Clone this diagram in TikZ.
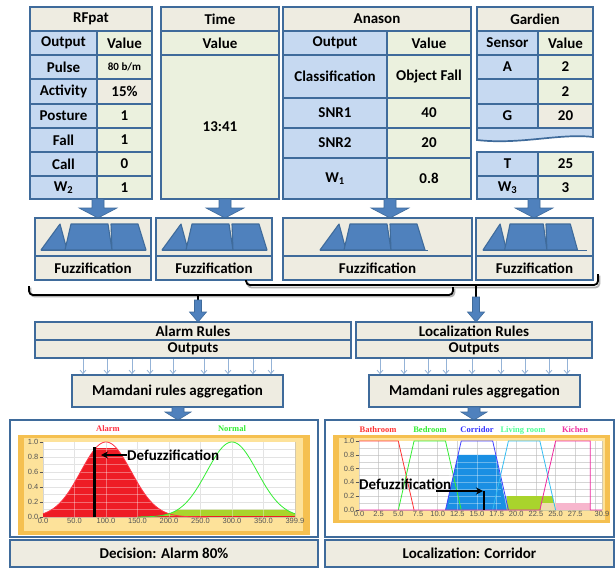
\documentclass[tikz,border=0pt]{standalone}
\usepackage{fontspec}
\setmainfont{Carlito}
\newfontfamily\chartserif{Liberation Serif}
\newfontfamily\chartsans{Liberation Sans}
\usetikzlibrary{arrows.meta,calc}
\definecolor{bdr}{HTML}{3F6B9B}
\definecolor{lblue}{HTML}{C6D9F1}
\definecolor{valc}{HTML}{EBF1DE}
\definecolor{tanc}{HTML}{EEECE1}
\definecolor{arrf}{HTML}{4F81BD}
\definecolor{thinc}{HTML}{95B3D7}
\definecolor{goldD}{HTML}{F5C050}
\definecolor{goldL}{HTML}{FDE29A}
\definecolor{redf}{HTML}{EE1C25}
\definecolor{redl}{HTML}{FF3344}
\definecolor{grnl}{HTML}{33EE33}
\definecolor{ygf}{HTML}{A9D42C}
\definecolor{bluef}{HTML}{1A8FE3}
\definecolor{lbluef}{HTML}{9FD3EF}
\definecolor{pinkf}{HTML}{F7B6CD}
\definecolor{peachf}{HTML}{EFDDB0}
\definecolor{axc}{HTML}{555555}
\newcommand\tabf{\fontsize{15}{17}\selectfont\bfseries}
\newcommand\axf{\chartsans\fontsize{7.5}{8.5}\selectfont}
\newcommand\lblf{\chartserif\bfseries\fontsize{8.5}{9.5}\selectfont}
\tikzset{
  cell/.style={draw=bdr, line width=1.7pt, inner sep=0pt, font=\tabf, align=center},
  outerb/.style={draw=bdr, line width=2.4pt},
  barr/.style={fill=arrf, draw=bdr, line width=0.6pt},
  fzsh/.style={fill=arrf, draw=bdr, line width=1.1pt, line join=round},
  fzl/.style={draw=bdr, line width=1pt},
  brk/.style={draw=black, line width=1.8pt, rounded corners=4pt},
  brkshadow/.style={draw=black!30, line width=1.8pt, rounded corners=4pt},
  thinarr/.style={draw=thinc, line width=0.8pt, -{Straight Barb[length=3.5pt,width=6pt]}},
  gridl/.style={draw=gray!55, line width=0.4pt, opacity=0.6},
  axl/.style={font=\axf, text=axc, inner sep=1pt},
  ticky/.style={draw=axc, line width=0.5pt},
  defarr/.style={draw=black, line width=1.6pt, -{Stealth[length=7pt,width=7pt]}},
}
\newcommand\tcell[7]{\node[cell,fill=#6,minimum width={(#4-#2)*1pt},minimum height={(#5-#3)*1pt}] (#1) at ({(#2+#4)/2},{(#3+#5)/2}) {#7};}
\newcommand\blkarrow[6]{\path[barr] ({#1-#5},#2) -- ({#1+#5},#2) -- ({#1+#5},#3) -- ({#1+#6},#3) -- (#1,#4) -- ({#1-#6},#3) -- ({#1-#5},#3) -- cycle;}
\newcommand\fzs[3]{%
\begin{scope}[shift={(#1,0)}, xscale=#2]
 \draw[fzl] (0,250) -- (#3,250);
 \path[fzsh] (0,250) -- (19,224) -- (26,250) -- cycle;
 \path[fzsh] (24,250) -- (30,224) -- (67,224) -- (71,250) -- cycle;
 \path[fzsh] (71,250) -- (70,224) -- (97,224) -- (105,250) -- cycle;
\end{scope}}
\begin{document}
\begin{tikzpicture}[x=1pt,y=-1pt]
\useasboundingbox (0,0) rectangle (616,571);
\fill[white] (0,0) rectangle (616,571);

% ---------------- RFpat table
\tcell{rfT}{30}{7}{152}{31}{tanc}{RFpat}
\tcell{rfO}{30}{31}{97}{55}{lblue}{Output}
\tcell{rfV}{97}{31}{152}{55}{valc}{Value}
\tcell{rfa}{30}{55}{97}{79}{lblue}{Pulse}
\tcell{rfb}{97}{55}{152}{79}{valc}{{\fontsize{11}{12}\selectfont 80 b/m}}
\tcell{rfc}{30}{79}{97}{104}{lblue}{Activity}
\tcell{rfd}{97}{79}{152}{104}{tanc}{15\%}
\tcell{rfe}{30}{104}{97}{128}{lblue}{Posture}
\tcell{rff}{97}{104}{152}{128}{valc}{1}
\tcell{rfg}{30}{128}{97}{152}{lblue}{Fall}
\tcell{rfh}{97}{128}{152}{152}{valc}{1}
\tcell{rfi}{30}{152}{97}{176}{lblue}{Call}
\tcell{rfj}{97}{152}{152}{176}{valc}{0}
\tcell{rfk}{30}{176}{97}{199}{lblue}{W\textsubscript{2}}
\tcell{rfl}{97}{176}{152}{199}{valc}{1}
\draw[outerb] (30,7) rectangle (152,199);

% ---------------- Time table
\tcell{tmT}{161}{7}{279}{31}{tanc}{Time}
\tcell{tmV}{161}{31}{279}{55}{valc}{Value}
\tcell{tmX}{161}{55}{279}{199}{valc}{13:41}
\draw[outerb] (161,7) rectangle (279,199);

% ---------------- Anason table
\tcell{anT}{283}{7}{471}{31}{tanc}{Anason}
\tcell{anO}{283}{31}{387}{55}{lblue}{Output}
\tcell{anV}{387}{31}{471}{55}{valc}{Value}
\tcell{ana}{283}{55}{387}{98}{lblue}{Classification}
\tcell{anb}{387}{55}{471}{98}{valc}{Object Fall}
\tcell{anc}{283}{98}{387}{128}{lblue}{SNR1}
\tcell{and}{387}{98}{471}{128}{valc}{40}
\tcell{ane}{283}{128}{387}{158}{lblue}{SNR2}
\tcell{anf}{387}{128}{471}{158}{valc}{20}
\tcell{ang}{283}{158}{387}{199}{lblue}{W\textsubscript{1}}
\tcell{anh}{387}{158}{471}{199}{valc}{0.8}
\draw[outerb] (283,7) rectangle (471,199);

% ---------------- Gardien table
\tcell{gaT}{477}{7}{593}{31}{tanc}{Gardien}
\tcell{gaO}{477}{31}{538}{55}{lblue}{Sensor}
\tcell{gaV}{538}{31}{593}{55}{valc}{Value}
\tcell{gaa}{477}{55}{538}{79}{lblue}{A}
\tcell{gab}{538}{55}{593}{79}{valc}{2}
\tcell{gac}{477}{79}{538}{104}{lblue}{}
\tcell{gad}{538}{79}{593}{104}{valc}{2}
\tcell{gae}{477}{104}{538}{128}{lblue}{G}
\tcell{gaf}{538}{104}{593}{128}{tanc}{20}
\filldraw[fill=lblue, draw=bdr, line width=1.7pt] (477,128) -- (593,128) -- (593,137) .. controls (560,133) and (520,145) .. (477,140) -- cycle;
\draw[outerb] (477,140) -- (477,7) -- (593,7) -- (593,137);
\tcell{gTa}{477}{152}{538}{176}{lblue}{T}
\tcell{gTb}{538}{152}{593}{176}{valc}{25}
\tcell{gTc}{477}{176}{538}{199}{lblue}{W\textsubscript{3}}
\tcell{gTd}{538}{176}{593}{199}{valc}{3}
\draw[outerb] (477,152) rectangle (593,199);

% ---------------- block arrows to fuzzification
\blkarrow{98}{199}{208}{218}{6}{19}
\blkarrow{225}{199}{208}{218}{6}{19}
\blkarrow{390}{199}{208}{218}{6}{19}
\blkarrow{534}{199}{208}{218}{6}{19}

% ---------------- Fuzzification boxes
\tcell{fzRp}{35}{218}{151}{256}{tanc}{}
\tcell{fzR}{35}{256}{151}{280}{tanc}{Fuzzification}
\tcell{fzTp}{156}{218}{272}{256}{tanc}{}
\tcell{fzT}{156}{256}{272}{280}{tanc}{Fuzzification}
\tcell{fzAp}{283}{218}{472}{256}{tanc}{}
\tcell{fzA}{283}{256}{472}{280}{tanc}{Fuzzification}
\tcell{fzGp}{476}{218}{593}{256}{tanc}{}
\tcell{fzG}{476}{256}{593}{280}{tanc}{Fuzzification}
\fzs{41}{1}{105}
\fzs{162}{1}{105}
\fzs{320}{1}{108}
\fzs{483}{0.9}{115}

% ---------------- brackets
\coordinate (bA1) at (29,286);
\coordinate (bA2) at (453,287);
\coordinate (bB1) at (246,280);
\coordinate (bB2) at (598,274);
\draw[brkshadow] ([shift={(1.5,1.5)}]bB1) -- ++(0,6) -| ([shift={(1.5,1.5)}]bB2);
\draw[brkshadow] ([shift={(1.5,1.5)}]bA1) -- ++(0,9) -| ([shift={(1.5,1.5)}]bA2);
\draw[brk] (bB1) -- (246,285) -- (598,285) -- (bB2);
\draw[brk] (bA1) -- (29,295) -- (453,295) -- (bA2);
\draw[brk, rounded corners=0pt] (198,295) -- (198,300);
\draw[brk, rounded corners=0pt] (476,285) -- (476,297);
\blkarrow{198}{300}{312}{322}{3.5}{8.5}
\blkarrow{476}{297}{312}{322}{3.5}{8.5}

% ---------------- Rules boxes
\tcell{arT}{35}{322}{351}{340}{tanc}{Alarm Rules}
\tcell{arO}{35}{340}{351}{358}{tanc}{Outputs}
\tcell{lrT}{356}{322}{592}{340}{tanc}{Localization Rules}
\tcell{lrO}{356}{340}{592}{358}{tanc}{Outputs}

% ---------------- Mamdani boxes
\tcell{maA}{72}{375}{283}{407}{tanc}{Mamdani rules aggregation}
\tcell{maL}{369}{375}{580}{407}{tanc}{Mamdani rules aggregation}
\foreach \xx in {83,107,132,150,173,204,228,253,271}
  \draw[thinarr] (arO.south -| \xx,0) -- (maA.north -| \xx,0);
\foreach \xx in {380,404,428,446,472,501,525,549,567}
  \draw[thinarr] (lrO.south -| \xx,0) -- (maL.north -| \xx,0);
\blkarrow{178}{407}{412}{420}{6}{13}
\blkarrow{474}{407}{412}{420}{6}{13}

% ---------------- Alarm panel
\tcell{pA}{10}{420}{318}{537}{white}{}
\tcell{decA}{10}{540}{318}{567}{tanc}{Decision: Alarm 80\%}
\fill[goldD] (18,435) rectangle (310,535);
\fill[goldL] (24,438) rectangle (303,531);
\node[font=\lblf, text=redl] (labA) at (108,429) {Alarm};
\node[font=\lblf, text=grnl] (labN) at (232,429) {Normal};
\begin{scope}[shift={(43,517)}, xscale=0.63, yscale=-75]
  \fill[white] (0,0) rectangle (400,1);
  \foreach \i in {0,50,...,400} \draw[gridl] (\i,0) -- (\i,1);
  \foreach \j in {0,0.1,...,1.0} \draw[gridl] (0,\j) -- (400,\j);
  \fill[redf] (0,0) -- plot[domain=0:235, samples=120] (\x,{min(0.92, exp(-((\x-100)/40)^2/2))}) -- (235,0) -- cycle;
  \fill[ygf] (170,0) -- plot[domain=170:400, samples=80] (\x,{min(0.1, exp(-((\x-300)/40)^2/2))}) -- (400,0) -- cycle;
  \fill[redf] (0,0) rectangle (400,0.018);
  \foreach \i in {50,100,...,350} \draw[draw=white, line width=0.4pt, opacity=0.35] (\i,0) -- (\i,1);
  \foreach \j in {0.1,0.2,...,0.95} \draw[draw=white, line width=0.4pt, opacity=0.35] (0,\j) -- (400,\j);
  \draw[redl, line width=0.8pt] plot[domain=0:260, samples=120] (\x,{exp(-((\x-100)/40)^2/2)});
  \draw[grnl, line width=0.8pt] plot[domain=150:400, samples=120] (\x,{exp(-((\x-300)/40)^2/2)});
  \draw[black, line width=2.6pt] (82,0) -- (82,0.93);
  \foreach \v/\t in {0/0.0,50/50.0,100/100.0,150/150.0,200/200.0,250/250.0,300/300.0,350/350.0,399.9/399.9}
    \node[axl, anchor=north] at (\v,0) {\t};
\end{scope}
\foreach \v/\t in {0/0.0,0.2/0.2,0.4/0.4,0.6/0.6,0.8/0.8,1.0/1.0} {
  \node[axl, anchor=east] at (39.5,{517-75*\v}) {\t};
  \draw[ticky] (39.5,{517-75*\v}) -- (43,{517-75*\v});
}
\node[font=\tabf, anchor=west, inner sep=0pt] (dfA) at (127,455) {Defuzzification};
\coordinate (dfAtip) at (101,455);
\draw[defarr] (dfA.west) -- (dfAtip);

% ---------------- Localization panel
\tcell{pL}{325}{420}{614}{537}{white}{}
\tcell{decL}{325}{540}{614}{567}{tanc}{Localization: Corridor}
\fill[goldD] (333,435) rectangle (610,523);
\fill[goldL] (339,438) rectangle (605,520);
\node[font=\lblf, text=red!80!white] (lb1) at (378,430) {Bathroom};
\node[font=\lblf, text=grnl] (lb2) at (430,430) {Bedroom};
\node[font=\lblf, text=blue!80!white] (lb3) at (477,430) {Corridor};
\node[font=\lblf, text=green!60!cyan!70!white] (lb4) at (523,430) {Living room};
\node[font=\lblf, text=magenta!80!white] (lb5) at (575,430) {Kichen};
\begin{scope}[shift={(359,510)}, xscale=7.864, yscale=-69]
  \fill[white] (0,0) rectangle (30.9,1);
  \foreach \i in {0,2.5,...,30} \draw[gridl] (\i,0) -- (\i,1);
  \draw[gridl] (30.9,0) -- (30.9,1);
  \foreach \j in {0,0.1,...,1.0} \draw[gridl] (0,\j) -- (30.9,\j);
  \fill[lbluef] (17,0) -- (17.4,0.2) -- (19,0.2) -- (19,0) -- cycle;
  \fill[ygf] (18.8,0) -- (18.8,0.2) -- (24.6,0.2) -- (25,0) -- cycle;
  \fill[peachf] (23.2,0) -- (23.2,0.1) -- (25,0.1) -- (25,0) -- cycle;
  \fill[pinkf] (25,0) rectangle (29.4,0.1);
  \fill[bluef] (11,0) -- (12.6,0.8) -- (17.4,0.8) -- (18.8,0) -- cycle;
  \foreach \i in {12.5,15,17.5} \draw[draw=white, line width=0.4pt, opacity=0.35] (\i,0) -- (\i,0.8);
  \foreach \j in {0.1,0.2,...,0.75} \draw[draw=white, line width=0.4pt, opacity=0.35] (11.5,\j) -- (18,\j);
  \draw[red!80!white, line width=0.8pt] (0,1) -- (5,1) -- (7,0);
  \draw[grnl, line width=0.8pt] (5,0) -- (7,1) -- (11,1) -- (13,0);
  \draw[blue!75!white, line width=0.8pt] (11,0) -- (13,1) -- (17,1) -- (19,0);
  \draw[cyan!80!white, line width=0.8pt] (17,0) -- (19,1) -- (23,1) -- (25,0);
  \draw[magenta!85!white, line width=0.8pt] (0,0) -- (23,0) -- (25,1) -- (29.4,1) -- (29.4,0) -- (30.9,0);
  \draw[black, line width=2pt] (15.9,0) -- (15.9,0.28);
  \foreach \v/\t in {0/0.0,2.5/2.5,5/5.0,7.5/7.5,10/10.0,12.5/12.5,15/15.0,17.5/17.5,20/20.0,22.5/22.5,25/25.0,27.5/27.5,30.9/30.9}
    \node[axl, anchor=north] at (\v,0) {\t};
\end{scope}
\foreach \v/\t in {0/0.0,0.2/0.2,0.4/0.4,0.6/0.6,0.8/0.8,1.0/1.0} {
  \node[axl, anchor=east] at (355.5,{510-69*\v}) {\t};
  \draw[ticky] (355.5,{510-69*\v}) -- (359,{510-69*\v});
}
\node[font=\tabf, anchor=west, inner sep=0pt] (dfL) at (359,484) {Defuzzification};
\coordinate (dfLs) at (436,491);
\coordinate (dfLtip) at (483,491);
\draw[defarr] (dfLs) -- (dfLtip);
\end{tikzpicture}
\end{document}
